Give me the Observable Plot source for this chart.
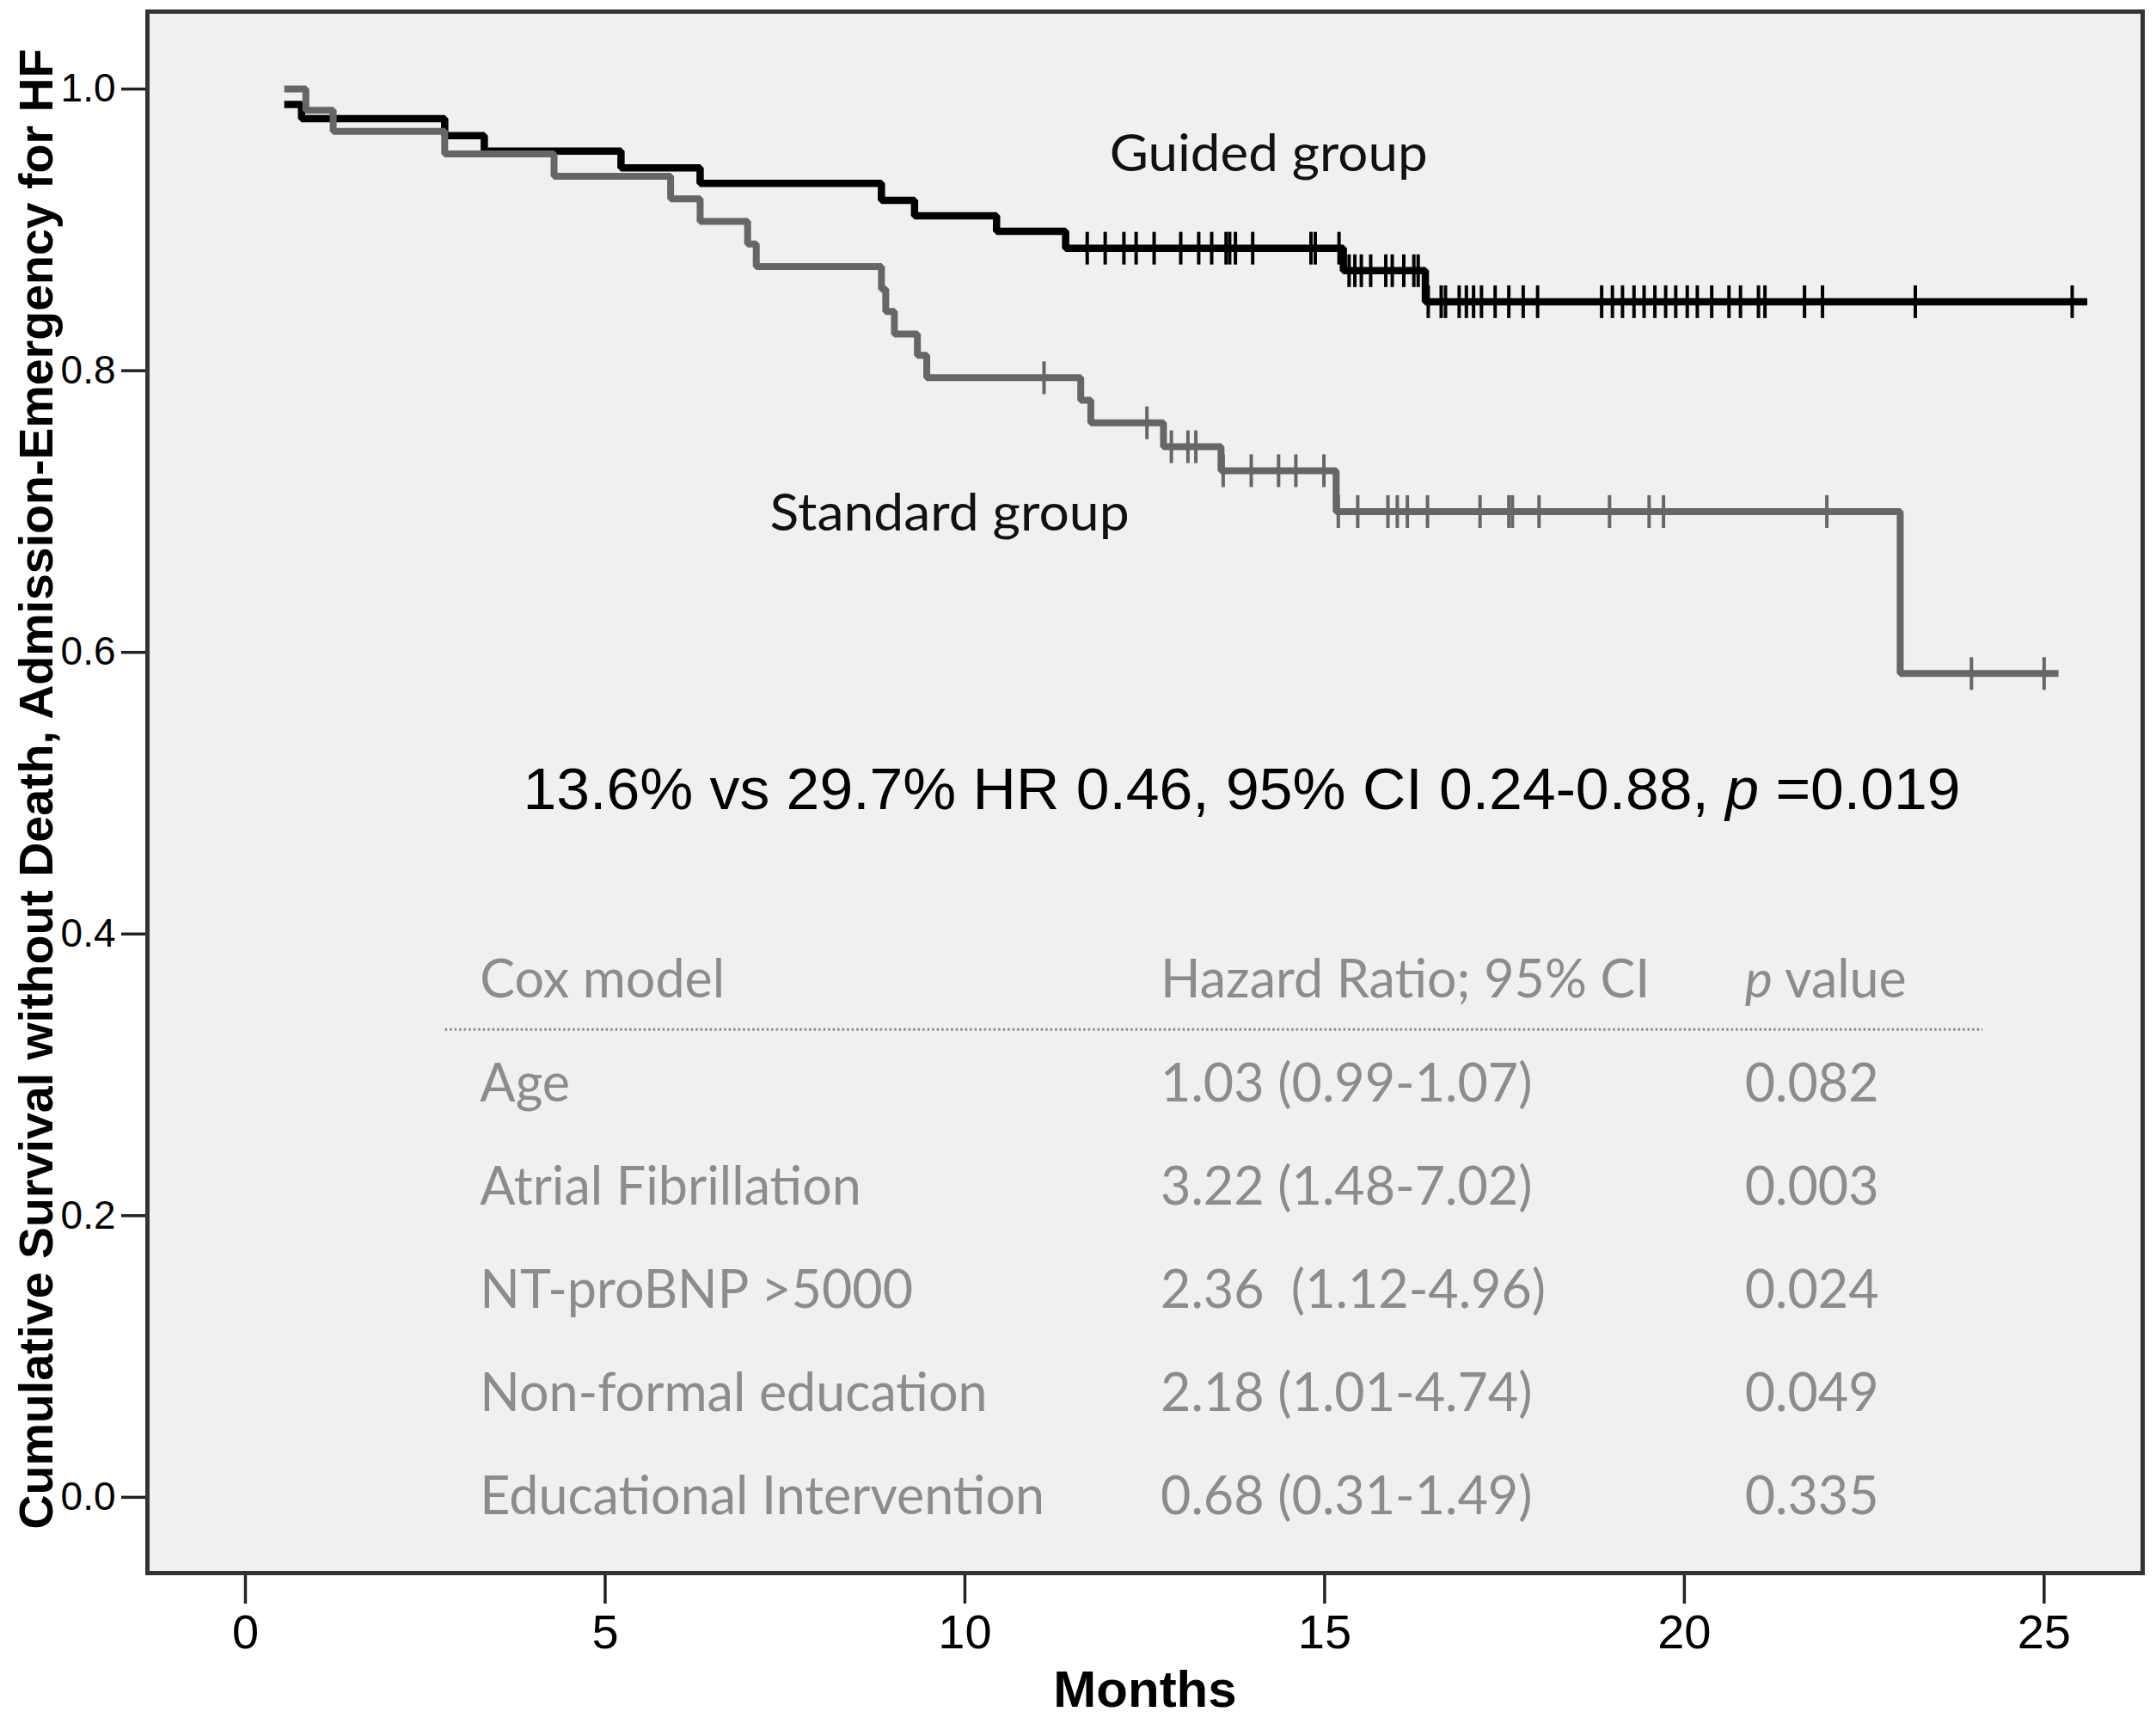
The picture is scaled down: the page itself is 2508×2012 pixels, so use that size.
<!DOCTYPE html>
<html><head><meta charset="utf-8">
<script src="https://cdn.jsdelivr.net/npm/d3@7"></script>
<script src="https://cdn.jsdelivr.net/npm/@observablehq/plot@0.6"></script>
<style>
html,body{margin:0;padding:0;background:#fff;}
svg text{white-space:pre;}
</style>
</head><body><div id="chart"></div>
<script>
// ---- Data ----
const guidedTimes = [0.54, 0.78, 2.77, 3.32, 5.22, 6.32, 8.84, 9.30, 10.44, 11.40, 15.26, 16.40, 25.60];
const guidedSurv  = [0.989, 0.979, 0.967, 0.956, 0.944, 0.933, 0.921, 0.910, 0.899, 0.887, 0.871, 0.849, 0.849];
const guidedCensor = [11.70, 11.95, 12.21, 12.38, 12.63, 13.00, 13.25, 13.43, 13.63, 13.68, 13.76, 14.00, 14.81, 14.87, 15.20,
  15.34, 15.42, 15.51, 15.64, 15.85, 15.94, 16.10, 16.24, 16.30,
  16.44, 16.62, 16.68, 16.87, 16.97, 17.07, 17.18, 17.37, 17.56, 17.76, 17.96,
  18.85, 19.00, 19.14, 19.30, 19.44, 19.59, 19.74, 19.88, 20.04, 20.18, 20.38, 20.62, 20.78, 21.03, 21.12, 21.67, 21.92, 23.21, 25.39];

const standardTimes = [0.54, 0.84, 1.22, 2.77, 4.29, 5.91, 6.32, 6.98, 7.10, 8.84, 8.90, 9.02, 9.34, 9.47, 11.61, 11.75, 12.76, 13.56, 15.16, 23.00, 25.20];
const standardSurv  = [1.000, 0.985, 0.970, 0.954, 0.938, 0.922, 0.906, 0.890, 0.874, 0.858, 0.842, 0.826, 0.811, 0.795, 0.779, 0.763, 0.746, 0.729, 0.700, 0.585, 0.585];
const standardCensor = [11.10, 12.53, 12.87, 13.10, 13.21, 13.59, 13.98, 14.36, 14.60, 14.99,
  15.19, 15.46, 15.88, 16.01, 16.15, 16.43, 17.16, 17.56, 17.61, 17.98, 18.96, 19.51, 19.71, 21.98, 23.99, 25.00];

const xTicks = [0, 5, 10, 15, 20, 25];
const yTicks = [0, 0.2, 0.4, 0.6, 0.8, 1.0];
const xTitle = "Months";
const yTitle = "Cumulative Survival without Death, Admission-Emergency for HF";
const groupLabels = ["Guided group", "Standard group"];
const annotationParts = ["13.6% vs 29.7% HR 0.46, 95% CI 0.24-0.88, ", "p", " =0.019"];
const coxHeader = ["Cox model", "Hazard Ratio; 95% CI", "p value"];
const coxVariables = ["Age", "Atrial Fibrillation", "NT-proBNP >5000", "Non-formal education", "Educational Intervention"];
const coxHR = ["1.03 (0.99-1.07)", "3.22 (1.48-7.02)", "2.36  (1.12-4.96)", "2.18 (1.01-4.74)", "0.68 (0.31-1.49)"];
const coxP = ["0.082", "0.003", "0.024", "0.049", "0.335"];

// ---- Derived tables ----
const guided = guidedTimes.map((t, i) => ({t, s: guidedSurv[i]}));
const standard = standardTimes.map((t, i) => ({t, s: standardSurv[i]}));
function survAt(times, surv, t) {
  let v = surv[0];
  for (let i = 0; i < times.length; i++) if (times[i] <= t) v = surv[i];
  return v;
}
const guidedMarks = guidedCensor.map(t => ({t, s: survAt(guidedTimes, guidedSurv, t)}));
const standardMarks = standardCensor.map(t => ({t, s: survAt(standardTimes, standardSurv, t)}));

const annotation = annotationParts.join("");
const coxRows = coxVariables.map((v, i) => ({v, hr: coxHR[i], p: coxP[i], i}));

// vertical censor tick symbol
const vbar = {draw(ctx, size) { const h = Math.sqrt(size / Math.PI); ctx.moveTo(0, -h); ctx.lineTo(0, h); }};

// layout (in data units)
const rowY = i => 0.2932 - i * 0.0733;
const headerY = 0.3666;
const col = [3.26, 12.72, 20.84];

const SANS = "'Liberation Sans', Arial, sans-serif";
const NARROW = "'Liberation Sans Narrow', 'Liberation Sans', Arial, sans-serif";
const CAL = "Lato, 'Open Sans', sans-serif";
const tableGray = "#8c8c8c";
const TFS = 61;

const svg = Plot.plot({
  width: 2508,
  height: 2012,
  marginLeft: 171,
  marginRight: 16,
  marginTop: 13,
  marginBottom: 183,
  style: {fontFamily: SANS, fontSize: "45px", background: "white", color: "black"},
  x: {domain: [-1.362, 26.37]},
  y: {domain: [-0.0538, 1.055]},
  marks: [
    Plot.frame({fill: "#f0f0f0"}),
    Plot.axisX({ticks: xTicks, tickSize: 36, tickPadding: 12, fontSize: 56, fontFamily: NARROW, strokeWidth: 3.5, stroke: "#222", label: null, tickFormat: d3.format("d")}),
    Plot.axisY({ticks: yTicks, tickSize: 30, tickPadding: 7, fontSize: 46, strokeWidth: 3.5, stroke: "#222", label: null, tickFormat: d3.format(".1f")}),
    Plot.text([xTitle], {frameAnchor: "bottom", dy: 155, fontSize: 60, fontWeight: "bold", fontFamily: SANS, fill: "black"}),
    Plot.text([yTitle], {frameAnchor: "left", dx: -128, dy: -4, rotate: -90, fontSize: 56, fontWeight: "bold", fontFamily: NARROW, fill: "black"}),
    // table
    Plot.ruleY([0], {y: () => 0.3323, x1: 2.78, x2: 24.15, stroke: "#8a8a8a", strokeWidth: 3, strokeDasharray: "2.5,3"}),
    Plot.text([coxHeader[0]], {x: () => col[0], y: () => headerY, textAnchor: "start", fontSize: TFS, fontFamily: CAL, fill: tableGray}),
    Plot.text([coxHeader[1]], {x: () => col[1], y: () => headerY, textAnchor: "start", fontSize: TFS, fontFamily: CAL, fill: tableGray}),
    Plot.text([coxHeader[2]], {x: () => col[2], y: () => headerY, textAnchor: "start", fontSize: TFS, fontFamily: CAL, fill: tableGray}),
    Plot.text(coxRows, {x: () => col[0], y: d => rowY(d.i), text: "v", textAnchor: "start", fontSize: TFS, fontFamily: CAL, fill: tableGray}),
    Plot.text(coxRows, {x: () => col[1], y: d => rowY(d.i), text: "hr", textAnchor: "start", fontSize: TFS, fontFamily: CAL, fill: tableGray}),
    Plot.text(coxRows, {x: () => col[2], y: d => rowY(d.i), text: "p", textAnchor: "start", fontSize: TFS, fontFamily: CAL, fill: tableGray}),
    // annotation
    Plot.text([annotation], {x: () => 3.86, y: () => 0.502, textAnchor: "start", fontSize: 68, fontFamily: SANS, fill: "black"}),
    // group labels
    Plot.text([groupLabels[0]], {x: () => 12.01, y: () => 0.9536, textAnchor: "start", fontSize: 60, fontFamily: CAL, fill: "#111"}),
    Plot.text([groupLabels[1]], {x: () => 7.29, y: () => 0.698, textAnchor: "start", fontSize: 60, fontFamily: CAL, fill: "#111"}),
    // curves
    Plot.line(guided, {x: "t", y: "s", curve: "step-after", stroke: "#000", strokeWidth: 8.5, strokeLinejoin: "miter", strokeLinecap: "butt"}),
    Plot.dot(guidedMarks, {x: "t", y: "s", symbol: vbar, r: 19, stroke: "#000", strokeWidth: 4, fill: "none"}),
    Plot.line(standard, {x: "t", y: "s", curve: "step-after", stroke: "#666", strokeWidth: 8, strokeLinejoin: "miter", strokeLinecap: "butt"}),
    Plot.dot(standardMarks, {x: "t", y: "s", symbol: vbar, r: 19, stroke: "#666", strokeWidth: 4, fill: "none"}),
    Plot.frame({stroke: "#333", strokeWidth: 5})
  ]
});
document.getElementById("chart").appendChild(svg);

// post-processing: italics and fitted lengths
const root = d3.select(svg);
function fit(el, len) {
  el.attr("textLength", len).attr("lengthAdjust", "spacingAndGlyphs");
}
root.selectAll("text").each(function() {
  const el = d3.select(this);
  const txt = this.textContent;
  if (txt === annotation) {
    el.text(null);
    el.append("tspan").text(annotationParts[0]);
    el.append("tspan").attr("font-style", "italic").text(annotationParts[1]);
    el.append("tspan").text(annotationParts[2]);
    el.attr("text-anchor", "start");
    fit(el, 1672);
  } else if (txt === coxHeader[2]) {
    el.text(null);
    el.append("tspan").attr("font-style", "italic").text("p");
    el.append("tspan").text(" value");
  } else if (txt === yTitle) {
    // anchor explicitly at the start so the fitted length is centred on the frame
    el.attr("text-anchor", "start").attr("x", -861);
    fit(el, 1722);
  } else if (txt === groupLabels[0]) {
    el.attr("text-anchor", "start");
    fit(el, 370);
  } else if (txt === groupLabels[1]) {
    el.attr("text-anchor", "start");
    fit(el, 418);
  }
});
</script>
</body></html>
